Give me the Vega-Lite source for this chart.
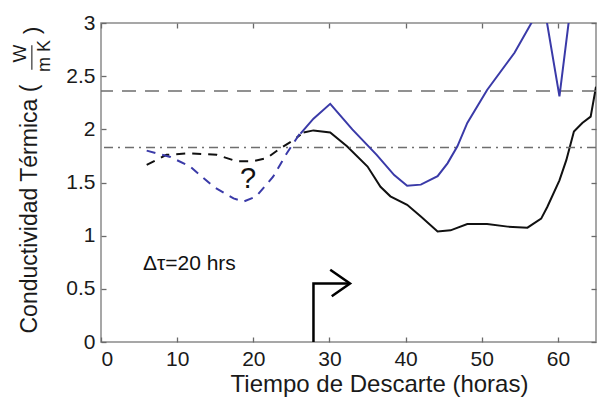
{
  "$schema": "https://vega.github.io/schema/vega-lite/v6.json",
  "width": 495,
  "height": 319,
  "autosize": "none",
  "padding": {"left": 101, "top": 23, "right": 2, "bottom": 59},
  "background": "white",
  "config": {
    "view": {"stroke": "#8a8a8a", "strokeWidth": 1.5},
    "font": "Liberation Sans",
    "axis": {
      "grid": false,
      "domain": false,
      "ticks": true,
      "tickColor": "#6a6a6a",
      "tickWidth": 1.3,
      "tickSize": 5,
      "offset": -5,
      "labelPadding": 6,
      "labelFont": "Liberation Sans",
      "labelFontSize": 21,
      "labelColor": "#1a1a1a",
      "titleFont": "Liberation Sans",
      "titleFontWeight": "normal",
      "titleColor": "#1a1a1a"
    }
  },
  "datasets": {
    "curvas": [
      {"serie": "negro_disc", "x": 6.0, "y": 1.665},
      {"serie": "negro_disc", "x": 7.5, "y": 1.72},
      {"serie": "negro_disc", "x": 8.6, "y": 1.76},
      {"serie": "negro_disc", "x": 11.7, "y": 1.775},
      {"serie": "negro_disc", "x": 15.2, "y": 1.76},
      {"serie": "negro_disc", "x": 17.8, "y": 1.70},
      {"serie": "negro_disc", "x": 20.0, "y": 1.70},
      {"serie": "negro_disc", "x": 21.8, "y": 1.73},
      {"serie": "negro_disc", "x": 23.5, "y": 1.82},
      {"serie": "negro_disc", "x": 25.3, "y": 1.90},
      {"serie": "negro_disc", "x": 26.2, "y": 1.95},
      {"serie": "azul_disc", "x": 6.0, "y": 1.80},
      {"serie": "azul_disc", "x": 9.1, "y": 1.74},
      {"serie": "azul_disc", "x": 11.7, "y": 1.65},
      {"serie": "azul_disc", "x": 14.8, "y": 1.46},
      {"serie": "azul_disc", "x": 17.4, "y": 1.35},
      {"serie": "azul_disc", "x": 18.7, "y": 1.32},
      {"serie": "azul_disc", "x": 20.4, "y": 1.37},
      {"serie": "azul_disc", "x": 22.6, "y": 1.555},
      {"serie": "azul_disc", "x": 24.4, "y": 1.775},
      {"serie": "azul_disc", "x": 26.1, "y": 1.96},
      {"serie": "negro", "x": 26.6, "y": 1.97},
      {"serie": "negro", "x": 27.9, "y": 1.99},
      {"serie": "negro", "x": 30.1, "y": 1.97},
      {"serie": "negro", "x": 32.3, "y": 1.84},
      {"serie": "negro", "x": 35.0, "y": 1.65},
      {"serie": "negro", "x": 36.7, "y": 1.46},
      {"serie": "negro", "x": 38.0, "y": 1.37},
      {"serie": "negro", "x": 40.2, "y": 1.29},
      {"serie": "negro", "x": 42.0, "y": 1.18},
      {"serie": "negro", "x": 44.2, "y": 1.04},
      {"serie": "negro", "x": 45.9, "y": 1.05},
      {"serie": "negro", "x": 48.1, "y": 1.11},
      {"serie": "negro", "x": 50.7, "y": 1.11},
      {"serie": "negro", "x": 53.4, "y": 1.085},
      {"serie": "negro", "x": 56.0, "y": 1.075},
      {"serie": "negro", "x": 57.8, "y": 1.16},
      {"serie": "negro", "x": 58.6, "y": 1.27},
      {"serie": "negro", "x": 60.2, "y": 1.52},
      {"serie": "negro", "x": 61.1, "y": 1.71},
      {"serie": "negro", "x": 62.1, "y": 1.98},
      {"serie": "negro", "x": 63.2, "y": 2.06},
      {"serie": "negro", "x": 64.3, "y": 2.12},
      {"serie": "negro", "x": 65.0, "y": 2.40},
      {"serie": "azul", "x": 26.2, "y": 1.96},
      {"serie": "azul", "x": 27.9, "y": 2.10},
      {"serie": "azul", "x": 30.1, "y": 2.24},
      {"serie": "azul", "x": 33.0, "y": 2.00},
      {"serie": "azul", "x": 36.2, "y": 1.76},
      {"serie": "azul", "x": 38.5, "y": 1.57},
      {"serie": "azul", "x": 40.2, "y": 1.47},
      {"serie": "azul", "x": 42.0, "y": 1.48},
      {"serie": "azul", "x": 44.2, "y": 1.56},
      {"serie": "azul", "x": 45.5, "y": 1.68},
      {"serie": "azul", "x": 46.8, "y": 1.84},
      {"serie": "azul", "x": 48.1, "y": 2.06},
      {"serie": "azul", "x": 50.7, "y": 2.37},
      {"serie": "azul", "x": 54.3, "y": 2.72},
      {"serie": "azul", "x": 58.1, "y": 3.20},
      {"serie": "azul", "x": 60.2, "y": 2.31},
      {"serie": "azul", "x": 61.8, "y": 3.23}
    ],
    "referencias": [
      {"tipo": "guiones", "y": 2.36},
      {"tipo": "guion_punto", "y": 1.83}
    ],
    "flecha": [
      {"parte": "tallo", "orden": 1, "x": 27.9, "y": 0.0},
      {"parte": "tallo", "orden": 2, "x": 27.9, "y": 0.55},
      {"parte": "tallo", "orden": 3, "x": 32.5, "y": 0.55},
      {"parte": "punta", "orden": 1, "x": 30.1, "y": 0.68},
      {"parte": "punta", "orden": 2, "x": 32.7, "y": 0.55},
      {"parte": "punta", "orden": 3, "x": 30.3, "y": 0.43}
    ],
    "nota": [
      {"texto": "Δτ=20 hrs", "x": 5.5, "y": 0.73}
    ],
    "pregunta": [
      {"texto": "?", "x": 19.3, "y": 1.53}
    ],
    "unidades": [
      {"texto": "W", "x": -10.66, "y": 2.714, "tam": 19},
      {"texto": "m K", "x": -7.3, "y": 2.69, "tam": 18},
      {"texto": ")", "x": -9.0, "y": 2.93, "tam": 22}
    ],
    "fraccion": [
      {"x": -9.08, "y": 2.56, "y2": 2.79}
    ]
  },
  "layer": [
    {
      "data": {"name": "curvas"},
      "transform": [{"filter": "datum.serie === 'negro'"}],
      "mark": {"type": "line", "color": "#111111", "strokeWidth": 2, "clip": true},
      "encoding": {
        "x": {
          "field": "x", "type": "quantitative",
          "scale": {"domain": [0, 65], "nice": false, "zero": false},
          "axis": {
            "values": [0, 10, 20, 30, 40, 50, 60],
            "format": "d",
            "title": "Tiempo de Descarte (horas)",
            "titleFontSize": 24,
            "titleX": 278,
            "titleY": 54,
            "titleBaseline": "alphabetic"
          }
        },
        "y": {
          "field": "y", "type": "quantitative",
          "scale": {"domain": [0, 3], "nice": false},
          "axis": {
            "values": [0, 0.5, 1, 1.5, 2, 2.5, 3],
            "format": ".1~f",
            "title": "Conductividad Térmica (",
            "titleFontSize": 23,
            "titleAngle": 270,
            "titleX": -77,
            "titleY": 310,
            "titleAlign": "left",
            "titleBaseline": "middle"
          }
        }
      }
    },
    {
      "data": {"name": "referencias"},
      "transform": [{"filter": "datum.tipo === 'guiones'"}],
      "mark": {"type": "rule", "color": "#6e6e6e", "strokeWidth": 1.5, "strokeDash": [14, 9]},
      "encoding": {
        "y": {"field": "y", "type": "quantitative",
          "axis": {"orient": "right", "values": [0, 0.5, 1, 1.5, 2, 2.5, 3], "labels": false, "title": null}}
      }
    },
    {
      "data": {"name": "referencias"},
      "transform": [{"filter": "datum.tipo === 'guion_punto'"}],
      "mark": {"type": "rule", "color": "#6e6e6e", "strokeWidth": 1.5, "strokeDash": [9, 5, 2, 5]},
      "encoding": {
        "y": {"field": "y", "type": "quantitative", "axis": null}
      }
    },
    {
      "data": {"name": "curvas"},
      "transform": [{"filter": "datum.serie === 'negro_disc'"}],
      "mark": {"type": "line", "color": "#111111", "strokeWidth": 2, "strokeDash": [9, 7]},
      "encoding": {
        "x": {"field": "x", "type": "quantitative",
          "axis": {"orient": "top", "values": [0, 10, 20, 30, 40, 50, 60], "labels": false, "title": null}},
        "y": {"field": "y", "type": "quantitative", "axis": null}
      }
    },
    {
      "data": {"name": "curvas"},
      "transform": [{"filter": "datum.serie === 'azul_disc'"}],
      "mark": {"type": "line", "color": "#3a3aa8", "strokeWidth": 2, "strokeDash": [9, 7]},
      "encoding": {
        "x": {"field": "x", "type": "quantitative", "axis": null},
        "y": {"field": "y", "type": "quantitative", "axis": null}
      }
    },
    {
      "data": {"name": "curvas"},
      "transform": [{"filter": "datum.serie === 'azul'"}],
      "mark": {"type": "line", "color": "#3a3aa8", "strokeWidth": 2, "clip": true},
      "encoding": {
        "x": {"field": "x", "type": "quantitative", "axis": null},
        "y": {"field": "y", "type": "quantitative", "axis": null}
      }
    },
    {
      "data": {"name": "flecha"},
      "mark": {"type": "line", "color": "#000000", "strokeWidth": 2.5},
      "encoding": {
        "x": {"field": "x", "type": "quantitative", "axis": null},
        "y": {"field": "y", "type": "quantitative", "axis": null},
        "detail": {"field": "parte"},
        "order": {"field": "orden", "type": "quantitative"}
      }
    },
    {
      "data": {"name": "nota"},
      "mark": {"type": "text", "font": "Liberation Sans", "color": "#111111", "baseline": "middle", "align": "left", "fontSize": 21},
      "encoding": {
        "x": {"field": "x", "type": "quantitative", "axis": null},
        "y": {"field": "y", "type": "quantitative", "axis": null},
        "text": {"field": "texto"}
      }
    },
    {
      "data": {"name": "pregunta"},
      "mark": {"type": "text", "font": "Liberation Sans", "color": "#111111", "baseline": "middle", "align": "center", "fontSize": 29},
      "encoding": {
        "x": {"field": "x", "type": "quantitative", "axis": null},
        "y": {"field": "y", "type": "quantitative", "axis": null},
        "text": {"field": "texto"}
      }
    },
    {
      "data": {"name": "unidades"},
      "mark": {"type": "text", "font": "Liberation Sans", "color": "#1a1a1a", "baseline": "middle", "align": "center", "angle": 270},
      "encoding": {
        "x": {"field": "x", "type": "quantitative", "axis": null},
        "y": {"field": "y", "type": "quantitative", "axis": null},
        "text": {"field": "texto"},
        "size": {"field": "tam", "type": "quantitative", "scale": null}
      }
    },
    {
      "data": {"name": "fraccion"},
      "mark": {"type": "rule", "color": "#333333", "strokeWidth": 1.2},
      "encoding": {
        "x": {"field": "x", "type": "quantitative", "axis": null},
        "y": {"field": "y", "type": "quantitative", "axis": null},
        "y2": {"field": "y2"}
      }
    }
  ],
  "resolve": {"axis": {"x": "independent", "y": "independent"}}
}
